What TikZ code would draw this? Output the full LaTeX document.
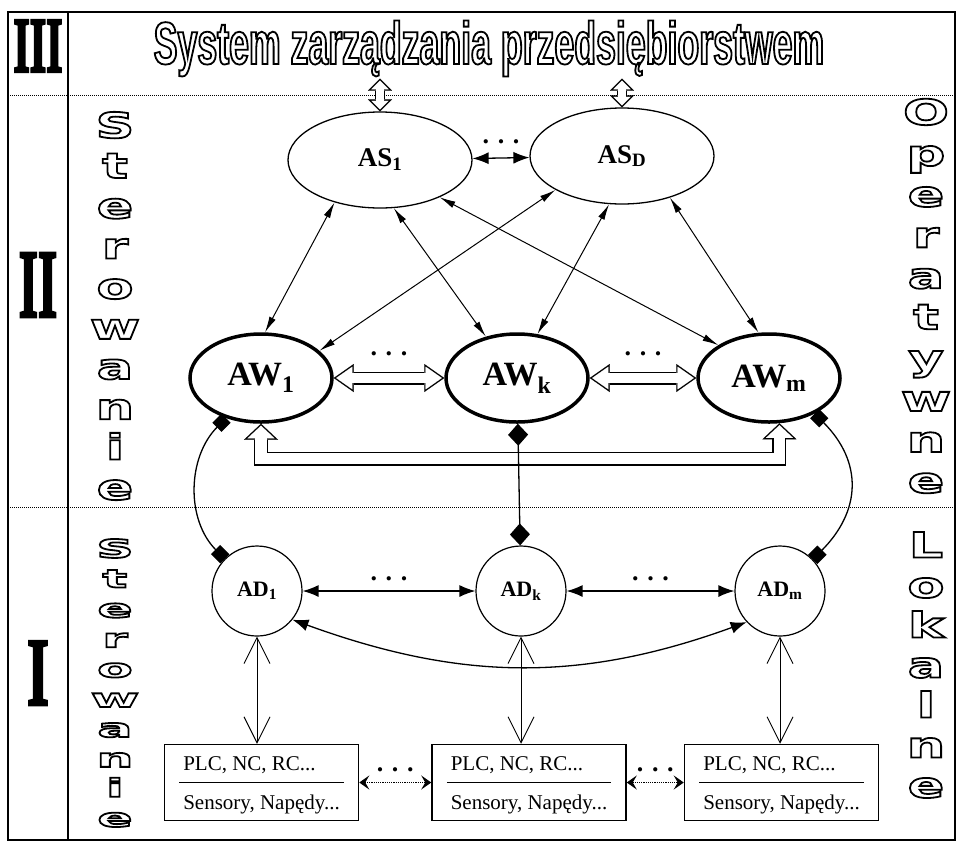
\documentclass[tikz,border=0pt]{standalone}
\usepackage{fontspec}
\setmainfont{Liberation Serif}
\newfontfamily\titlefont[FakeStretch=0.595]{Liberation Sans}
\newfontfamily\sidefont[FakeStretch=1.55]{DejaVu Sans}
\newfontfamily\sideflatfont[FakeStretch=2.1]{DejaVu Sans}
\usetikzlibrary{arrows.meta, positioning, shapes.geometric, calc}
\renewcommand{\arraystretch}{1.5}
\setlength{\arrayrulewidth}{1pt}

% outlined (stroked only) text and heavy (filled and stroked) text
\newcommand{\hollowtext}[1]{\special{pdf:literal direct 1 Tr 1.8 w}#1\special{pdf:literal direct 0 Tr}}
\newcommand{\heavytext}[1]{\special{pdf:literal direct 2 Tr 3 w}#1\special{pdf:literal direct 0 Tr}}

% hollow double-headed arrow: shaft width, head length, head width, path
\newcommand{\hollowarrow}[4]{%
  \pgfmathsetmacro{\hoa}{1.4*sqrt((#3/2)^2+(#2)^2)/(#3/2)}%
  \pgfmathsetmacro{\hol}{#2-1.4-\hoa}%
  \pgfmathsetmacro{\how}{#3*\hol/#2}%
  \pgfmathsetmacro{\hos}{#1-2.8}%
  \draw[line width=#1pt, {Triangle[length=#2pt,width=#3pt,line width=0.1pt]}-{Triangle[length=#2pt,width=#3pt,line width=0.1pt]}] #4;
  \draw[white, line width=\hos pt, shorten >=\hoa pt, shorten <=\hoa pt, {Triangle[length=\hol pt,width=\how pt,line width=0.1pt]}-{Triangle[length=\hol pt,width=\how pt,line width=0.1pt]}] #4;
}

\tikzset{
  asnode/.style={ellipse, draw, line width=1.3pt, minimum width=184pt, minimum height=96pt,
    inner sep=0pt, font=\fontsize{27}{30}\selectfont\bfseries},
  awnode/.style={ellipse, draw, line width=3.5pt, minimum width=142pt, minimum height=88pt,
    inner sep=0pt, font=\fontsize{34}{36}\selectfont\bfseries},
  adnode/.style={circle, draw, line width=1.2pt, minimum size=90pt,
    inner sep=0pt, font=\fontsize{22}{24}\selectfont\bfseries},
  devbox/.style={rectangle, draw, line width=1.5pt, minimum width=194pt, minimum height=75pt,
    inner sep=0pt, font=\fontsize{21}{25}\selectfont},
  numeral/.style={inner sep=0pt, font=\fontsize{97}{97}\selectfont\bfseries},
  sideword/.style={align=center, inner sep=0pt,
    font={\lineskiplimit=-100pt\sidefont\bfseries\fontsize{35}{#1}\selectfont}},
  headline/.style={inner sep=2pt, font=\titlefont\bfseries\fontsize{60}{62}\selectfont},
  outerframe/.style={line width=1.5pt},
  tier/.style={densely dotted, line width=1pt},
  aslink/.style={line width=1pt, {Latex[length=16pt,width=7pt]}-{Latex[length=16pt,width=7pt]}},
  peer/.style={line width=1.3pt, {Latex[length=16pt,width=12pt]}-{Latex[length=16pt,width=12pt]}},
  diamondlink/.style={line width=1.3pt, {Diamond[length=22pt,width=20pt]}-{Diamond[length=22pt,width=20pt]}},
  squarelink/.style={line width=1.3pt, {Square[length=13pt,width=13pt]}-{Square[length=13pt,width=13pt]}},
  iolink/.style={line width=0.9pt, {Straight Barb[length=26pt,width=26pt]}-{Straight Barb[length=26pt,width=26pt]}},
  devlink/.style={densely dotted, line width=1.2pt, {Stealth[length=10pt,width=14pt,inset=4pt]}-{Stealth[length=10pt,width=14pt,inset=4pt]}},
  dotlabel/.style={above=13pt, inner sep=0pt, font=\fontsize{26}{26}\selectfont\bfseries},
}

\begin{document}
\begin{tikzpicture}[x=1pt, y=1pt]
  \useasboundingbox (0,0) rectangle (965,-847);
  \fill[white] (0,0) rectangle (965,-847);

  % frame and levels
  \draw[outerframe] (8,-12) rectangle (955,-840);
  \draw[outerframe] (68,-12) -- (68,-840);
  \draw[tier] (8,-95) -- (955,-95);
  \draw[tier] (8,-507) -- (955,-507);

  \node[numeral] (lvl3) at (38,-46) {\scalebox{0.54}[1]{\fontsize{78}{78}\selectfont\heavytext{III}}};
  \node[numeral] (lvl2) at (38,-285) {\scalebox{0.51}[1]{\heavytext{II}}};
  \node[numeral] (lvl1) at (38,-673) {\scalebox{0.58}[1]{\heavytext{I}}};

  \node[sideword=40.2] (capLU) at (115,-306) {\hollowtext{S\\t\\e\\r\\o\\w\\a\\n\\i\\e}};
  \node[sideword=29.9, font={\lineskiplimit=-100pt\sideflatfont\bfseries\fontsize{25}{29.9}\selectfont}]
    (capLD) at (115,-683) {\hollowtext{S\\t\\e\\r\\o\\w\\a\\n\\i\\e}};
  \node[sideword=40.9] (capRU) at (926,-296) {\hollowtext{O\\p\\e\\r\\a\\t\\y\\w\\n\\e}};
  \node[sideword=40] (capRD) at (926,-665) {\hollowtext{L\\o\\k\\a\\l\\n\\e}};

  \node[headline, anchor=base] (title) at (489,-64) {\hollowtext{System zarządzania przedsiębiorstwem}};

  % level II
  \node[asnode] (AS1) at (380,-160) {AS\textsubscript{1}};
  \node[asnode] (ASD) at (622,-156) {AS\textsubscript{D}};
  \node[awnode] (AW1) at (261,-378) {AW\textsubscript{1}};
  \node[awnode, right=110.5pt of AW1] (AWk) {AW\textsubscript{k}};
  \node[awnode, right=106.5pt of AWk] (AWm) {AW\textsubscript{m}};

  % level I
  \node[adnode] (AD1) at (257,-591) {AD\textsubscript{1}};
  \node[adnode, right=172.8pt of AD1] (ADk) {AD\textsubscript{k}};
  \node[adnode, right=167.8pt of ADk] (ADm) {AD\textsubscript{m}};

  \node[devbox] (box1) at (261.5,-782.5) {\begin{tabular}{@{\hspace{4pt}}l@{\hspace{4pt}}}PLC, NC, RC...\\\hline Sensory, Napędy...\end{tabular}};
  \node[devbox, right=72pt of box1] (box2) {\begin{tabular}{@{\hspace{4pt}}l@{\hspace{4pt}}}PLC, NC, RC...\\\hline Sensory, Napędy...\end{tabular}};
  \node[devbox, right=57pt of box2] (box3) {\begin{tabular}{@{\hspace{4pt}}l@{\hspace{4pt}}}PLC, NC, RC...\\\hline Sensory, Napędy...\end{tabular}};

  % links
  \draw[peer] (AS1) -- node[dotlabel]{. . .} (ASD);
  \draw[aslink] (AS1.223) -- (AW1.85);
  \draw[aslink] (AS1.286) -- (AWk.127);
  \draw[aslink] (AS1.328) -- (AWm.147);
  \draw[aslink] (ASD.207) -- (AW1.25);
  \draw[aslink] (ASD.255) -- (AWk.65);
  \draw[aslink] (ASD.319) -- (AWm.103);

  \hollowarrow{10}{12}{24}{(title.south -| AS1.north) -- (AS1.north)}
  \hollowarrow{10}{12}{24}{(title.south -| ASD.north) -- (ASD.north)}
  \hollowarrow{13}{20}{28}{(AW1) -- (AWk)}
  \hollowarrow{13}{20}{28}{(AWk) -- (AWm)}
  \hollowarrow{14}{16}{34}{(AW1.south) -- ++(0,-35) -| (AWm.283)}
  \path (AW1) -- node[dotlabel, above=22pt]{. . .} (AWk);
  \path (AWk) -- node[dotlabel, above=22pt]{. . .} (AWm);

  \draw[diamondlink] (AWk) -- (ADk);
  \draw[squarelink] (AW1.229) to[out=225, in=135] (AD1.135);
  \draw[squarelink] (AWm.322) to[out=-45, in=45, looseness=1.2] (ADm.44);

  \draw[peer] (AD1) -- node[dotlabel, above=9pt]{. . .} (ADk);
  \draw[peer] (ADk) -- node[dotlabel, above=9pt]{. . .} (ADm);
  \draw[peer] (AD1.321) to[out=-20, in=200] (ADm.223);

  \draw[iolink] (AD1.south) -- (AD1.south |- box1.north);
  \draw[iolink] (ADk.south) -- (ADk.south |- box2.north);
  \draw[iolink] (ADm.south) -- (ADm.south |- box3.north);

  \draw[devlink] (box1) -- node[dotlabel, above=10pt]{. . .} (box2);
  \draw[devlink] (box2) -- node[dotlabel, above=10pt]{. . .} (box3);
\end{tikzpicture}
\end{document}
